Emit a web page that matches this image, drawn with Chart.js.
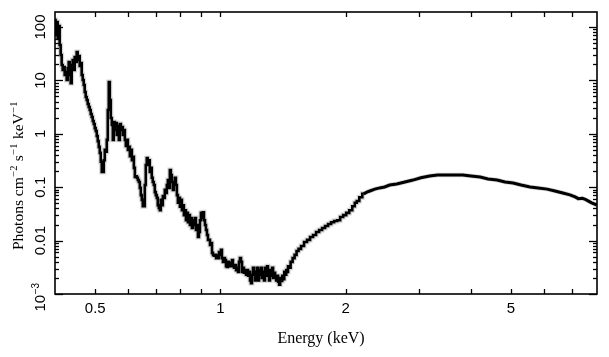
<!DOCTYPE html>
<html><head><meta charset="utf-8">
<script src="https://cdn.jsdelivr.net/npm/chart.js@4.4.0/dist/chart.umd.min.js"></script>
<style>html,body{margin:0;padding:0;background:#fff}#wrap{width:609px;height:357px}</style>
</head><body><div id="wrap"><canvas id="c" width="609" height="357"></canvas></div>
<script>
// Energy bins (keV)
const energyKeV = [
0.400,0.4026,0.4048,0.4071,0.4093,0.4116,0.4139,0.4162,0.4185,0.4208,0.4232,0.4255,0.4279,0.4303,0.4327,0.4351,0.4375,0.4399,0.4423,0.4448,
0.4473,0.4498,0.4523,0.4548,0.4573,0.4599,0.4624,0.4650,0.4676,0.4702,0.4728,0.4754,0.4781,0.4807,0.4834,0.4861,0.4888,0.4915,0.4943,0.4971,
0.4998,0.5026,0.5054,0.5082,0.5111,0.5139,0.5168,0.5197,0.5226,0.5255,0.5284,0.5314,0.5343,0.5373,0.5403,0.5433,0.5463,0.5494,0.5525,0.5555,
0.5586,0.5617,0.5649,0.5680,0.5712,0.5744,0.5776,0.5808,0.5840,0.5873,0.5906,0.5938,0.5972,0.6005,0.6038,0.6072,0.6106,0.6140,0.6174,0.6208,
0.6243,0.6277,0.6310,0.6346,0.6381,0.6416,0.6451,0.6486,0.6522,0.6558,0.6595,0.6631,0.6668,0.6705,0.6742,0.6779,0.6817,0.6854,0.6892,0.6934,
0.6970,0.7010,0.7048,0.7087,0.7129,0.7167,0.7207,0.7247,0.7288,0.7328,0.7369,0.7410,0.7452,0.7494,0.7535,0.7578,0.7620,0.7662,0.7705,0.7748,
0.7791,0.7835,0.7878,0.7922,0.7966,0.8010,0.8055,0.8100,0.8145,0.8190,0.8236,0.8282,0.8328,0.8374,0.8421,0.8468,0.8515,0.8562,0.8610,0.8658,
0.8706,0.8755,0.8803,0.8853,0.8902,0.8952,0.9001,0.9052,0.9102,0.9153,0.9204,0.9255,0.9307,0.9359,0.9411,0.9463,0.9516,0.9569,0.9623,0.9677,
0.9731,0.9784,0.9835,0.9890,0.9945,1.000,1.0056,1.0112,1.0168,1.0224,1.028,1.034,1.040,1.045,1.051,1.057,1.063,1.069,1.075,1.081,
1.087,1.093,1.099,1.105,1.111,1.117,1.124,1.130,1.136,1.142,1.149,1.155,1.162,1.168,1.175,1.181,1.188,1.194,1.201,1.208,
1.214,1.221,1.228,1.235,1.242,1.248,1.255,1.262,1.269,1.276,1.284,1.291,1.298,1.305,1.312,1.320,1.327,1.335,1.342,1.350,
1.357,1.365,1.372,1.380,1.388,1.396,1.404,1.412,1.420,1.428,1.436,1.444,1.450,1.458,1.467,1.483,1.500,1.516,1.533,1.550,
1.576,1.602,1.629,1.657,1.684,1.713,1.742,1.771,1.800,1.831,1.861,1.893,1.925,1.957,1.990,2.024,2.058,2.093,2.116,2.140,
2.176,2.212,2.250,2.288,2.351,2.416,2.483,2.553,2.655,2.778,2.904,3.035,3.185,3.330,3.502,3.662,3.830,4.004,4.214,4.403,
4.628,4.838,5.058,5.287,5.556,5.809,6.107,6.377,6.663,6.930,7.131,7.256,7.421,7.548,7.679,7.813,7.948,8.04
];
// Photons cm^-2 s^-1 keV^-1
const photonFlux = [
135,71,124,62,104,46,30,19.4,15.7,17.8,12.6,14.4,10.2,17.1,22.1,12.6,8.9,19.4,24.1,15.7,
27.4,22.1,34,24.1,28.7,18.6,21.2,12.6,10.2,8.2,6.07,4.89,4.30,3.61,3.18,2.79,2.35,2.06,1.74,1.53,
1.28,1.13,0.91,0.73,0.57,0.44,0.30,0.193,0.193,0.32,0.50,0.46,0.77,2.79,9.3,4.30,1.98,1.46,0.77,1.66,
1.18,1.59,0.95,1.40,0.77,1.53,1.18,1.34,0.95,1.18,0.77,0.59,0.77,0.50,0.57,0.38,0.50,0.32,0.37,0.23,
0.155,0.16,0.15,0.136,0.125,0.097,0.071,0.058,0.044,0.044,0.110,0.26,0.35,0.26,0.32,0.193,0.23,0.15,0.125,0.110,
0.081,0.071,0.063,0.046,0.041,0.037,0.058,0.046,0.068,0.063,0.089,0.078,0.110,0.136,0.097,0.21,0.169,0.125,0.089,0.110,
0.15,0.110,0.071,0.051,0.063,0.043,0.058,0.037,0.046,0.030,0.037,0.024,0.033,0.022,0.030,0.0196,0.0265,0.0172,0.024,0.0196,
0.0265,0.0158,0.0196,0.0117,0.0145,0.024,0.033,0.0265,0.034,0.024,0.0196,0.0158,0.0127,0.0103,0.0103,0.0083,0.0090,0.0059,0.0054,0.0052,
0.0054,0.0047,0.0052,0.0047,0.0061,0.0054,0.0067,0.0047,0.0040,0.0047,0.0043,0.0033,0.0032,0.0040,0.0033,0.0038,0.0033,0.0043,0.0033,0.0031,
0.0035,0.0028,0.0031,0.0026,0.0040,0.0047,0.0040,0.0026,0.0031,0.0025,0.0028,0.0023,0.0028,0.0022,0.0026,0.0018,0.0016,0.0023,0.0031,0.0026,
0.0018,0.0020,0.0031,0.0018,0.0028,0.0023,0.0031,0.0020,0.0026,0.0018,0.0031,0.0022,0.0033,0.0023,0.0018,0.0028,0.0022,0.0031,0.0020,0.0025,
0.0021,0.0018,0.0022,0.0017,0.0015,0.0020,0.00175,0.0022,0.0019,0.0026,0.0023,0.0028,0.0026,0.0033,0.0031,0.0040,0.0047,0.0054,0.0064,0.0070,
0.0079,0.0094,0.0103,0.0117,0.0127,0.0145,0.0158,0.0172,0.0188,0.0205,0.022,0.0233,0.024,0.0277,0.030,0.033,0.037,0.044,0.051,0.055,
0.065,0.075,0.081,0.085,0.092,0.097,0.101,0.110,0.115,0.125,0.136,0.15,0.162,0.169,0.169,0.169,0.169,0.162,0.155,0.143,
0.136,0.125,0.120,0.110,0.101,0.097,0.092,0.085,0.078,0.072,0.066,0.061,0.062,0.059,0.055,0.051,0.048,0.046
];
const xTickValues = [0.5, 1, 2, 5];
const xTickLabels = ['0.5', '1', '2', '5'];
const xMinorValues = [0.6, 0.7, 0.8, 0.9, 3, 4, 6, 7];
const yTickValues = [0.001, 0.01, 0.1, 1, 10, 100];
const yTickLabels = ['10^-3', '0.01', '0.1', '1', '10', '100'];
const xTitle = 'Energy (keV)';
const yTitleParts = [['Photons cm', '−2'], [' s', '−1'], [' keV', '−1']];
const smoothFromKeV = 2.2; // above this energy the fine binning looks like a continuous line

const SANS = '"Liberation Sans", Arial, Helvetica, sans-serif';
const SERIF = '"Liberation Serif", "Times New Roman", Times, serif';

function supText(ctx, parts, baseFont, supFont, x, y, rise) {
  let cx = x;
  for (const [b, s] of parts) {
    ctx.font = baseFont; ctx.fillText(b, cx, y); cx += ctx.measureText(b).width;
    if (s) { ctx.font = supFont; ctx.fillText(s, cx + 0.5, y - rise); cx += ctx.measureText(s).width + 1; }
  }
  return cx - x;
}
function measureSup(ctx, parts, baseFont, supFont) {
  let w = 0;
  for (const [b, s] of parts) {
    ctx.font = baseFont; w += ctx.measureText(b).width;
    if (s) { ctx.font = supFont; w += ctx.measureText(s).width + 1; }
  }
  return w;
}

const decor = {
  id: 'decor',
  afterDraw(chart) {
    const { ctx, chartArea: a, scales: { x, y } } = chart;
    ctx.save();
    ctx.strokeStyle = '#000'; ctx.fillStyle = '#000';
    ctx.lineWidth = 1.6;
    ctx.strokeRect(a.left, a.top, a.right - a.left, a.bottom - a.top);
    ctx.lineWidth = 1.3;
    const seg = (x1, y1, x2, y2) => { ctx.beginPath(); ctx.moveTo(x1, y1); ctx.lineTo(x2, y2); ctx.stroke(); };
    for (const v of xTickValues.concat(xMinorValues)) {
      const px = Math.round(x.getPixelForValue(v)) + 0.5;
      seg(px, a.bottom, px, a.bottom - 5);
      seg(px, a.top, px, a.top + 5);
    }
    for (const d of yTickValues) {
      for (let m = 1; m <= 9; m++) {
        const v = d * m;
        if (v > y.max) continue;
        const py = Math.round(y.getPixelForValue(v)) + 0.5;
        if (py < a.top) continue;
        const len = m === 1 ? 8 : 4;
        seg(a.left, py, a.left + len, py);
        seg(a.right, py, a.right - len, py);
      }
    }
    ctx.font = '15px ' + SANS;
    ctx.textAlign = 'center'; ctx.textBaseline = 'alphabetic';
    xTickValues.forEach((v, i) => {
      ctx.fillText(xTickLabels[i], x.getPixelForValue(v), 313);
    });
    yTickValues.forEach((v, i) => {
      const py = y.getPixelForValue(v);
      ctx.save();
      ctx.translate(45, py);
      ctx.rotate(-Math.PI / 2);
      ctx.textAlign = 'left'; ctx.textBaseline = 'alphabetic';
      const lab = yTickLabels[i];
      if (lab.includes('^')) {
        const [b, e] = lab.split('^');
        const parts = [[b, e.replace('-', '−')]];
        const w = measureSup(ctx, parts, '15px ' + SANS, '10px ' + SANS);
        supText(ctx, parts, '15px ' + SANS, '10px ' + SANS, -w / 2 - 3, 0, 6);
      } else {
        ctx.font = '15px ' + SANS;
        const w = ctx.measureText(lab).width;
        ctx.fillText(lab, -w / 2, 0);
      }
      ctx.restore();
    });
    ctx.font = '16px ' + SERIF;
    ctx.textAlign = 'center';
    ctx.fillText(xTitle, (a.left + a.right) / 2 - 5, 343);
    ctx.save();
    ctx.translate(23, 250);
    ctx.rotate(-Math.PI / 2);
    ctx.textAlign = 'left';
    supText(ctx, yTitleParts, '15.5px ' + SERIF, '10.5px ' + SERIF, 0, 0, 6);
    ctx.restore();
    ctx.restore();
  }
};

const pts = energyKeV.map((e, i) => ({ x: e, y: photonFlux[i] }));
const splitIdx = energyKeV.findIndex(e => e >= smoothFromKeV);
const lowPts = pts.slice(0, splitIdx + 1);
const highPts = pts.slice(splitIdx);

const halo = '#d6d6d6';
new Chart(document.getElementById('c'), {
  type: 'line',
  data: {
    datasets: [
      { data: lowPts, borderColor: halo, borderWidth: 5, pointRadius: 0, stepped: 'middle', order: 3 },
      { data: highPts, borderColor: halo, borderWidth: 4.5, pointRadius: 0, tension: 0, order: 3 },
      { data: lowPts, borderColor: '#000', borderWidth: 2.6, pointRadius: 0, stepped: 'middle', order: 1 },
      { data: highPts, borderColor: '#000', borderWidth: 3, pointRadius: 0, tension: 0, order: 1 }
    ]
  },
  options: {
    responsive: false, animation: false, devicePixelRatio: 1,
    layout: { padding: { left: 55, top: 12, right: 12, bottom: 63 } },
    plugins: { legend: { display: false }, tooltip: { enabled: false } },
    scales: {
      x: { type: 'logarithmic', min: 0.4, max: 8.05, display: false },
      y: { type: 'logarithmic', min: 0.001, max: 191, display: false }
    }
  },
  plugins: [decor]
});
</script>
</body></html>
